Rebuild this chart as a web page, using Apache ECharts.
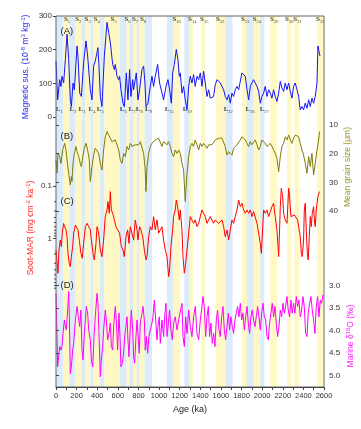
<!DOCTYPE html>
<html>
<head>
<meta charset="utf-8">
<script src="https://cdn.jsdelivr.net/npm/echarts@6/dist/echarts.min.js"></script>
<style>html,body{margin:0;padding:0;background:#fff;}#c{width:361px;height:429px;}</style>
</head>
<body>
<div id="c"></div>
<script>
// ---- background bands (ka) ----
const yellowStart = [70,187,284,365,468,682,753,811,1135,1296,1409,1552,1804,1917,2080,2241,2314,2532];
const yellowEnd   = [128,252,333,423,617,714,785,860,1205,1330,1448,1642,1852,1982,2144,2283,2360,2590];
const blueStart = [0,128,252,333,423,617,714,785,860,1077,1245,1642,1852,1982];
const blueEnd   = [70,187,284,365,468,682,753,811,931,1135,1296,1713,1917,2021];

// ---- unit labels ----
const sLabelAge = [107,216,307,395,559,694,766,845,1170,1322,1438,1594,1836,1949,2117,2263,2343,2563];
const sLabelNum = ['1','2','3','4','5','6','7','8','10','14','15','22','23','24','26','30','31','32'];
const lLabelAge = [32,165,252,349,430,653,737,808,898,1099,1273,1671,1884,2020];
const lLabelNum = ['1','2','3','4','5','6','7','8','9','15','19','22','26','27'];

// ---- (A) magnetic susceptibility ----
const magAge = [0,16,36,48,58,74,91,107,123,139,149,165,178,204,213,230,246,268,291,307,320,333,349,365,381,407,417,430,446,469,495,511,527,550,566,575,592,608,617,630,650,663,682,698,714,727,744,753,779,795,811,834,850,863,873,892,915,931,947,963,986,1005,1044,1067,1086,1102,1119,1132,1148,1167,1183,1196,
1206,1222,1238,1254,1271,1287,1303,1319,1335,1351,1368,1384,1400,1416,1432,1448,1465,1481,1497,1529,1545,1562,1578,1594,1610,1626,1642,1659,1675,1691,1707,1723,1739,1756,1772,1788,1804,1820,1836,1853,1869,1885,1901,1917,1933,1950,1966,1982,1998,2014,2030,2047,2063,2079,2095,2111,2127,2144,2160,2176,2192,2208,2224,2241,2257,2273,2289,2305,2321,2338,2354,2370,2386,2402,2418,2435,2451,2467,2483,2499,2515,2532,2541,2551,2561];
const magVal = [166,51,111,91,121,101,171,246,171,51,31,101,81,211,181,71,61,161,226,181,186,81,51,151,166,206,151,61,31,181,281,251,221,156,141,156,121,111,121,81,41,31,131,51,141,61,111,81,131,51,81,141,151,101,31,41,91,121,91,121,156,101,51,91,111,81,41,131,156,201,171,121,
131,71,91,51,21,91,121,101,126,91,121,111,131,91,136,101,61,81,56,61,96,111,106,101,96,81,61,51,66,41,71,61,81,91,81,106,131,136,121,81,51,91,96,111,101,91,76,41,61,71,91,61,81,71,56,81,61,46,71,106,86,76,101,81,101,76,56,91,101,81,61,21,31,21,41,26,51,31,56,41,61,101,211,216,181];

// ---- (B) mean grain size (um) ----
const grainAge = [0,10,19,36,48,65,84,97,107,123,139,149,155,165,178,194,204,220,236,246,262,275,291,307,323,333,349,365,381,398,414,430,446,462,478,495,511,527,543,559,575,592,608,624,640,656,672,689,705,721,737,753,769,786,802,818,834,850,866,873,883,899,915,931,947,963,980,996,1012,1028,1044,1060,1077,1093,1109,1125,1141,1157,1174,1190,
1206,1222,1238,1254,1271,1287,1303,1319,1335,1351,1368,1384,1400,1416,1432,1448,1465,1481,1497,1513,1529,1545,1562,1578,1594,1610,1626,1642,1659,1675,1691,1707,1723,1739,1756,1772,1788,1804,1820,1836,1853,1869,1885,1901,1917,1933,1950,1966,1982,1998,2014,2030,2047,2063,2079,2095,2111,2127,2144,2160,2176,2192,2208,2224,2241,2257,2273,2289,2305,2321,2338,2354,2370,2386,2402,2418,2435,2451,2467,2483,2499,2515,2532,2548,2557];
const grainVal = [22.2,26.8,19.9,21.0,23.4,18.7,16.4,18.7,22.2,26.8,30.9,28.0,29.7,23.4,19.9,17.5,19.3,21.0,23.4,24.5,20.5,18.1,16.4,18.7,22.2,29.7,24.5,20.5,18.1,17.5,19.9,23.4,25.7,18.7,14.1,12.3,13.5,14.6,15.8,16.4,15.2,16.9,18.7,22.2,23.4,19.9,21.0,17.5,18.7,16.4,17.5,18.1,16.9,16.4,16.9,15.8,16.4,19.9,25.7,33.2,24.5,19.9,17.5,16.4,16.9,15.2,15.8,14.6,15.2,17.5,15.8,15.2,16.9,15.8,17.5,19.9,21.0,18.7,19.9,18.7,
19.9,23.4,25.7,36.7,26.8,21.0,17.5,16.4,17.5,15.2,16.9,18.7,16.4,17.5,16.4,15.8,18.1,16.9,16.4,16.9,16.4,15.2,14.6,14.6,14.1,14.6,15.2,17.5,20.5,19.3,18.7,20.5,18.1,18.7,16.9,16.4,15.2,14.1,14.1,15.2,16.4,17.5,15.8,16.9,16.4,15.2,16.9,18.7,17.5,15.2,14.6,16.4,17.5,16.9,16.4,17.5,18.7,19.9,21.6,26.3,21.0,17.5,16.4,14.1,15.2,13.5,15.2,16.4,14.6,13.5,12.9,14.1,16.4,18.7,20.5,23.4,26.8,21.0,24.5,19.9,27.4,23.4,18.7,15.2,12.3];

// ---- (C) soot mass accumulation rate ----
const sootAge = [0,10,19,29,42,52,61,74,84,97,107,116,129,139,149,162,171,188,197,213,226,242,255,268,285,301,317,333,343,359,372,388,398,414,430,446,462,478,495,504,517,527,537,550,566,582,598,617,634,650,663,679,695,708,721,737,753,769,786,795,811,824,841,857,873,883,899,915,931,947,963,980,996,1012,1028,1044,1060,1077,1093,1102,1115,1132,1141,1157,1167,1180,1196,
1206,1222,1232,1245,1258,1271,1287,1303,1319,1335,1351,1368,1384,1400,1416,1432,1448,1465,1481,1497,1513,1529,1545,1562,1578,1594,1610,1626,1642,1659,1675,1691,1707,1723,1739,1756,1772,1788,1804,1820,1836,1853,1869,1885,1901,1917,1933,1950,1966,1982,1992,2004,2014,2030,2047,2063,2079,2095,2111,2127,2144,2160,2169,2176,2186,2199,2208,2224,2241,2257,2266,2279,2296,2312,2328,2344,2354,2370,2380,2389,2402,2409,2418,2428,2438,2447,2457,2467,2477,2486,2499,2509,2515,2525,2532,2541,2551,2557];
const sootVal = [1.67,3.01,4.66,1.67,1.08,1.44,0.80,0.52,0.60,0.69,0.93,1.94,3.01,3.48,2.24,1.44,0.80,0.556,0.517,0.69,1.08,1.94,2.41,1.25,0.60,0.517,0.556,0.69,1.08,1.94,2.59,1.25,0.60,0.80,1.67,2.24,1.08,0.385,0.287,0.199,0.333,0.128,0.287,0.333,0.446,0.598,0.693,0.80,1.44,1.67,2.24,0.93,0.69,1.25,0.60,0.80,1.08,0.446,0.69,1.08,0.60,0.69,0.93,1.67,2.59,2.24,0.93,0.60,0.69,0.385,0.69,0.446,0.80,0.69,0.60,1.08,1.67,2.24,5.40,4.03,1.44,0.69,0.385,0.287,0.185,0.248,0.446,
0.287,0.69,2.24,4.66,3.01,1.67,0.80,0.385,0.446,0.517,0.446,0.598,0.517,0.385,0.287,0.333,0.385,0.517,0.481,0.385,0.446,0.517,0.446,0.481,0.517,0.556,0.446,0.598,0.929,0.693,1.08,0.693,0.446,0.517,0.385,0.287,0.185,0.248,0.214,0.287,0.333,0.287,0.333,0.287,0.385,0.309,0.333,0.517,0.80,1.25,1.94,0.693,0.287,0.333,0.287,0.385,0.309,0.248,0.214,0.385,0.693,2.24,0.693,0.248,0.111,0.160,0.333,0.446,0.517,0.111,0.160,0.385,0.385,0.358,0.385,0.446,0.446,0.929,1.94,2.24,1.08,0.287,0.214,0.693,1.94,2.59,0.929,0.385,0.598,0.333,0.248,0.517,0.598,0.287,0.214,0.160,0.138,0.128];

// ---- (D) marine d18O ----
const d18Age = [0,6,16,26,36,48,58,68,81,91,100,113,123,129,139,149,162,171,188,204,220,230,242,252,262,275,285,294,307,317,333,343,356,369,381,398,407,417,430,440,453,462,478,488,501,514,527,537,550,559,575,585,598,611,621,630,643,656,666,679,689,698,708,721,731,744,753,763,776,786,795,808,818,834,844,857,866,876,889,902,915,931,941,954,967,980,989,1002,1012,1028,1044,1057,1067,1077,1090,1102,1115,1128,1141,1157,1174,1190,
1206,1222,1232,1245,1258,1271,1287,1303,1319,1335,1351,1368,1384,1400,1416,1426,1439,1452,1465,1478,1490,1503,1516,1529,1542,1555,1568,1581,1594,1607,1620,1633,1646,1659,1672,1684,1697,1710,1723,1736,1749,1762,1775,1788,1801,1814,1827,1840,1853,1866,1878,1891,1904,1917,1930,1943,1956,1969,1982,1995,2008,2021,2034,2047,2060,2072,2085,2098,2111,2124,2137,2150,2163,2176,2189,2202,2215,2228,2241,2253,2266,2279,2292,2305,2318,2331,2344,2357,2370,2383,2396,2409,2422,2435,2447,2460,2473,2486,2499,2512,2525,2538,2551,2564,2577,2590];
const d18Val = [3.18,3.77,4.81,4.59,4.36,4.44,4.36,4.07,3.77,3.92,3.99,3.55,3.14,3.62,4.96,4.81,4.44,4.29,3.77,3.47,3.77,3.92,3.55,4.44,4.66,4.07,3.77,3.47,3.62,3.99,4.21,4.66,4.81,4.14,3.70,3.18,3.40,4.07,5.03,4.66,4.36,3.99,3.55,3.77,4.21,4.07,3.84,4.36,4.44,3.92,3.47,3.77,4.44,3.62,4.14,4.81,4.73,4.51,4.14,3.92,3.70,4.21,4.59,3.92,3.55,3.99,4.59,4.73,4.14,3.77,4.07,4.51,3.84,3.62,3.47,3.77,4.44,4.14,4.51,4.14,3.99,3.84,3.70,3.33,3.77,4.21,3.92,3.70,4.29,3.77,4.14,3.62,3.40,4.14,3.84,3.55,3.99,4.21,3.84,3.70,3.99,3.77,
3.77,3.40,4.14,4.36,3.70,4.07,3.55,3.92,4.14,3.70,3.47,4.07,4.21,3.77,3.47,3.25,3.47,4.14,3.70,3.47,4.14,3.84,4.29,4.07,4.36,3.77,3.55,3.99,4.14,3.70,3.47,3.99,4.21,3.92,3.62,3.99,3.70,3.92,4.07,3.77,3.62,3.47,3.70,3.40,3.77,3.62,3.99,3.70,3.47,3.84,4.07,3.70,3.55,3.77,3.92,3.70,3.47,3.70,3.99,3.62,3.40,3.70,3.77,4.14,4.21,3.84,3.62,3.40,3.70,3.47,3.84,4.14,3.92,3.55,3.70,3.40,3.62,3.47,3.25,3.55,3.70,3.33,3.62,3.40,3.62,3.25,3.47,3.33,3.70,3.55,3.25,3.47,4.07,4.14,3.62,3.40,3.25,3.55,3.77,4.07,3.47,3.25,3.70,3.33,3.40,3.21];

// ---- axis ticks ----
const ageTicks = [0,200,400,600,800,1000,1200,1400,1600,1800,2000,2200,2400,2600];
const sootMinorTicks = [0.2,0.3,0.4,0.5,0.6,0.7,0.8,0.9,2,3,4,5,6,7,8,9];

const FONT = 'Arial, "Liberation Sans", sans-serif';
const SERIF = '"Liberation Serif", "DejaVu Serif", serif';
const zip = (a, b) => a.map((x, i) => [x, b[i]]);

const bandData = [];
yellowStart.forEach((s, i) => bandData.push([{xAxis: s, itemStyle: {color: '#FFF8C4'}}, {xAxis: yellowEnd[i]}]));
blueStart.forEach((s, i) => bandData.push([{xAxis: s, itemStyle: {color: '#DCEBFA'}}, {xAxis: blueEnd[i]}]));

const L = 56, W = 268;
const hiddenX = (g) => ({gridIndex: g, type: 'value', min: 0, max: 2600, show: false});
const tickStyle = {show: true, length: 3, lineStyle: {color: '#444', width: 1}};
const labStyle = {fontSize: 8, color: '#333', fontFamily: FONT};

const chart = echarts.init(document.getElementById('c'), null, {renderer: 'canvas'});
chart.setOption({
  animation: false,
  backgroundColor: '#fff',
  grid: [
    {left: L, top: 16, width: W, height: 371, show: true, borderColor: '#666', borderWidth: 1, z: 10},
    {left: L, top: 16, width: W, height: 101},
    {left: L, top: 125, width: W, height: 86},
    {left: L, top: 186, width: W, height: 104.6},
    {left: L, top: 285.3, width: W, height: 90}
  ],
  xAxis: [
    {gridIndex: 0, type: 'value', min: 0, max: 2600, interval: 100, z: 10,
     axisLine: {show: true, lineStyle: {color: '#444'}},
     axisTick: tickStyle,
     splitLine: {show: false},
     axisLabel: {fontSize: 7.5, color: '#333', fontFamily: FONT, margin: 5,
       formatter: v => ageTicks.indexOf(v) >= 0 ? String(v) : ''},
     name: 'Age (ka)', nameLocation: 'middle', nameGap: 18,
     nameTextStyle: {fontSize: 9, color: '#222', fontFamily: FONT}},
    hiddenX(1), hiddenX(2), hiddenX(3), hiddenX(4)
  ],
  yAxis: [
    {gridIndex: 0, type: 'value', min: 0, max: 1, show: false},
    {gridIndex: 1, type: 'value', min: 0, max: 300, interval: 100, position: 'left', z: 10,
     axisLine: {show: false}, axisTick: tickStyle, splitLine: {show: false},
     axisLabel: Object.assign({margin: 4}, labStyle)},
    {gridIndex: 2, type: 'value', min: 10, max: 40, interval: 10, inverse: true, position: 'right', z: 10,
     axisLine: {show: false}, axisTick: tickStyle, splitLine: {show: false},
     axisLabel: Object.assign({margin: 5}, labStyle)},
    {gridIndex: 3, type: 'log', logBase: 10, min: 0.1, max: 10, inverse: true, position: 'left', z: 10,
     axisLine: {show: false}, axisTick: tickStyle, splitLine: {show: false},
     axisLabel: Object.assign({margin: 4, showMaxLabel: false,
       formatter: v => (v >= 9.99 ? '' : (v < 0.5 ? '0.1' : '1'))}, labStyle)},
    {gridIndex: 4, type: 'value', min: 3, max: 5, interval: 0.5, inverse: true, position: 'right', z: 10,
     axisLine: {show: false}, axisTick: tickStyle, splitLine: {show: false},
     axisLabel: Object.assign({margin: 5, formatter: v => v.toFixed(1)}, labStyle)}
  ],
  series: [
    {type: 'line', xAxisIndex: 0, yAxisIndex: 0, data: [[0, 0]], symbol: 'none', silent: true,
     lineStyle: {opacity: 0}, z: 1,
     markArea: {silent: true, data: bandData}},
    {type: 'line', xAxisIndex: 1, yAxisIndex: 1, data: zip(magAge, magVal), symbol: 'none', clip: false, z: 5,
     lineStyle: {color: '#1414F5', width: 1}},
    {type: 'line', xAxisIndex: 2, yAxisIndex: 2, data: zip(grainAge, grainVal), symbol: 'none', clip: false, z: 5,
     lineStyle: {color: '#7D7D0A', width: 1}},
    {type: 'line', xAxisIndex: 3, yAxisIndex: 3, data: zip(sootAge, sootVal), symbol: 'none', clip: false, z: 5,
     lineStyle: {color: '#FF0000', width: 1}},
    {type: 'line', xAxisIndex: 4, yAxisIndex: 4, data: zip(d18Age, d18Val), symbol: 'none', clip: false, z: 5,
     lineStyle: {color: '#FF00FF', width: 1}},
    {type: 'scatter', xAxisIndex: 1, yAxisIndex: 1, symbolSize: 0, z: 8, silent: true,
     data: sLabelAge.map((a, i) => ({value: [a, 287], name: sLabelNum[i]})),
     label: {show: true, position: 'inside', formatter: p => '{b|S}{s|' + p.name + '}',
       rich: {b: {fontSize: 7, fontWeight: 'bold', fontFamily: SERIF, color: '#111', verticalAlign: 'bottom', padding: [0, 0, 1.5, 0]},
              s: {fontSize: 4.5, fontFamily: SERIF, color: '#111', verticalAlign: 'bottom'}}}},
    {type: 'scatter', xAxisIndex: 1, yAxisIndex: 1, symbolSize: 0, z: 8, silent: true,
     data: lLabelAge.map((a, i) => ({value: [a, 20], name: lLabelNum[i]})),
     label: {show: true, position: 'inside', formatter: p => '{b|L}{s|' + p.name + '}',
       rich: {b: {fontSize: 7, fontWeight: 'bold', fontFamily: SERIF, color: '#111', verticalAlign: 'bottom', padding: [0, 0, 1.5, 0]},
              s: {fontSize: 4.5, fontFamily: SERIF, color: '#111', verticalAlign: 'bottom'}}}},
    {type: 'custom', xAxisIndex: 3, yAxisIndex: 3, clip: false, silent: true, z: 10,
     data: sootMinorTicks.map(v => [0, v]),
     renderItem: (params, api) => {
       const p = api.coord([api.value(0), api.value(1)]);
       return {type: 'line', shape: {x1: p[0] - 2, y1: p[1], x2: p[0], y2: p[1]},
               style: {stroke: '#444', lineWidth: 1}};
     }}
  ],
  graphic: [
    {type: 'text', x: 25, y: 67, rotation: Math.PI / 2, z: 20,
     style: {text: '{t|Magnetic sus. (10}{p|-8}{t| m}{p|3}{t| kg}{p|-1}{t|)}', align: 'center', verticalAlign: 'middle',
       rich: {t: {fontSize: 8.5, fontFamily: FONT, fill: '#2A2AF5', verticalAlign: 'bottom'},
              p: {fontSize: 6, fontFamily: FONT, fill: '#2A2AF5', verticalAlign: 'bottom', padding: [0, 0, 4, 0]}}}},
    {type: 'text', x: 30, y: 228, rotation: Math.PI / 2, z: 20,
     style: {text: '{t|Soot-MAR (mg cm}{p|-2}{t| ka}{p|-1}{t|)}', align: 'center', verticalAlign: 'middle',
       rich: {t: {fontSize: 8.5, fontFamily: FONT, fill: '#FF2A2A', verticalAlign: 'bottom'},
              p: {fontSize: 6, fontFamily: FONT, fill: '#FF2A2A', verticalAlign: 'bottom', padding: [0, 0, 4, 0]}}}},
    {type: 'text', x: 348, y: 167, rotation: Math.PI / 2, z: 20,
     style: {text: 'Mean grain size (μm)', align: 'center', verticalAlign: 'middle',
       fontSize: 8.5, fontFamily: FONT, fill: '#9A9A2A'}},
    {type: 'text', x: 350, y: 336, rotation: Math.PI / 2, z: 20,
     style: {text: '{t|Marine δ}{p|18}{t|O (‰)}', align: 'center', verticalAlign: 'middle',
       rich: {t: {fontSize: 8.5, fontFamily: FONT, fill: '#FF22FF', verticalAlign: 'bottom'},
              p: {fontSize: 6, fontFamily: FONT, fill: '#FF22FF', verticalAlign: 'bottom', padding: [0, 0, 4, 0]}}}},
    {type: 'text', x: 60.5, y: 31, z: 20, style: {text: '(A)', fontSize: 9.5, fontFamily: FONT, fill: '#222', verticalAlign: 'middle'}},
    {type: 'text', x: 60.5, y: 136.5, z: 20, style: {text: '(B)', fontSize: 9.5, fontFamily: FONT, fill: '#222', verticalAlign: 'middle'}},
    {type: 'text', x: 60.5, y: 201.5, z: 20, style: {text: '(C)', fontSize: 9.5, fontFamily: FONT, fill: '#222', verticalAlign: 'middle'}},
    {type: 'text', x: 60.5, y: 285, z: 20, style: {text: '(D)', fontSize: 9.5, fontFamily: FONT, fill: '#222', verticalAlign: 'middle'}}
  ]
});
</script>
</body>
</html>
